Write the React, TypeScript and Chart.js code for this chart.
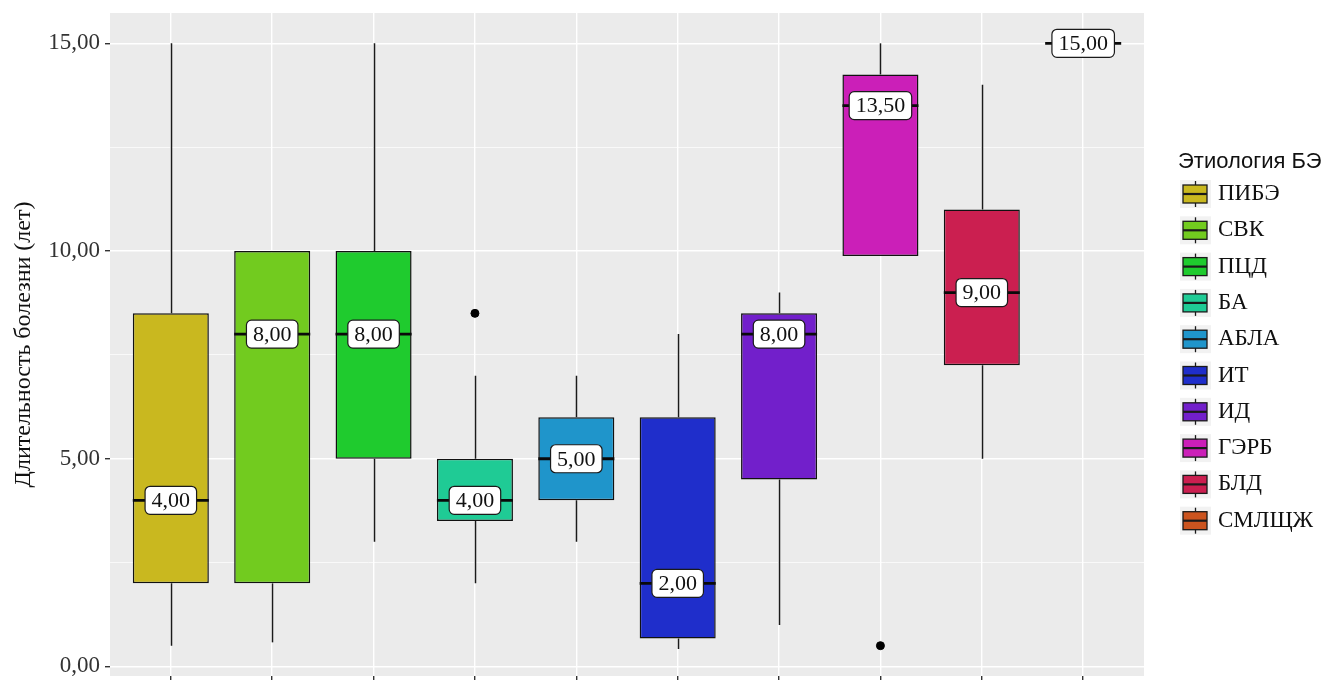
import React, { useEffect, useRef } from 'react';
import { Chart, registerables } from 'chart.js';

Chart.register(...registerables);

// ---- data ----
const categories = ['ПИБЭ', 'СВК', 'ПЦД', 'БА', 'АБЛА', 'ИТ', 'ИД', 'ГЭРБ', 'БЛД', 'СМЛЩЖ'];
const whiskerLow = [0.5, 0.58, 3, 2, 3, 0.42, 1, 9.88, 5, 15];
const q1 = [2, 2, 5, 3.5, 4, 0.67, 4.5, 9.88, 7.25, 15];
const median = [4, 8, 8, 4, 5, 2, 8, 13.5, 9, 15];
const q3 = [8.5, 10, 10, 5, 6, 6, 8.5, 14.25, 11, 15];
const whiskerHigh = [15, 10, 15, 7, 7, 8, 9, 15, 14, 15];
const outlierCategories = ['БА', 'ГЭРБ'];
const outlierValues = [8.5, 0.5];
const yTickValues = [0, 2.5, 5, 7.5, 10, 12.5, 15];
const colors = ['#C9B81F', '#72CB1F', '#1FCB2E', '#1FCB95', '#1F95CB', '#1F2ECB', '#721FCB', '#CB1FB8', '#CB1F50', '#CB541F'];
const legendTitle = 'Этиология БЭ';
const yTitle = 'Длительность болезни (лет)';

const fmt = (v: number) => v.toFixed(2).replace('.', ',');

const boxPlugin = {
  id: 'boxPlugin',
  beforeDraw(chart: any) {
    const { ctx, chartArea } = chart;
    ctx.save();
    ctx.fillStyle = '#EBEBEB';
    ctx.fillRect(chartArea.left, chartArea.top, chartArea.right - chartArea.left, chartArea.bottom - chartArea.top);
    ctx.restore();
  },
  beforeDatasetsDraw(chart: any) {
    const { ctx } = chart;
    const xs = chart.scales.x;
    const ys = chart.scales.y;
    ctx.save();
    ctx.strokeStyle = '#1a1a1a';
    ctx.lineWidth = 1.5;
    categories.forEach((_, i) => {
      const x = Math.round(xs.getPixelForValue(i + 1)) + 0.5;
      ctx.beginPath();
      ctx.moveTo(x, ys.getPixelForValue(whiskerLow[i]));
      ctx.lineTo(x, ys.getPixelForValue(q1[i]));
      ctx.moveTo(x, ys.getPixelForValue(q3[i]));
      ctx.lineTo(x, ys.getPixelForValue(whiskerHigh[i]));
      ctx.stroke();
    });
    ctx.restore();
  },
  afterDatasetsDraw(chart: any) {
    const { ctx } = chart;
    const xs = chart.scales.x;
    const ys = chart.scales.y;
    const half = (xs.getPixelForValue(2) - xs.getPixelForValue(1)) * 0.75 / 2;
    ctx.save();
    categories.forEach((_, i) => {
      const x = xs.getPixelForValue(i + 1);
      const y = ys.getPixelForValue(median[i]);
      ctx.strokeStyle = '#0a0a0a';
      ctx.lineWidth = 2.8;
      ctx.beginPath();
      ctx.moveTo(x - half, y);
      ctx.lineTo(x + half, y);
      ctx.stroke();
    });
    ctx.font = '22px "Liberation Serif"';
    ctx.textAlign = 'center';
    ctx.textBaseline = 'middle';
    categories.forEach((_, i) => {
      const x = xs.getPixelForValue(i + 1);
      const y = ys.getPixelForValue(median[i]);
      const txt = fmt(median[i]);
      const w = ctx.measureText(txt).width + 13;
      const h = 28;
      ctx.beginPath();
      ctx.roundRect(x - w / 2, y - h / 2, w, h, 5);
      ctx.fillStyle = '#FFFFFF';
      ctx.fill();
      ctx.lineWidth = 1.2;
      ctx.strokeStyle = '#1a1a1a';
      ctx.stroke();
      ctx.fillStyle = '#111';
      ctx.fillText(txt, x, y + 1);
    });
    ctx.restore();
  },
  afterDraw(chart: any) {
    const { ctx } = chart;
    ctx.save();
    ctx.fillStyle = '#111';
    ctx.font = '22px "Liberation Sans"';
    ctx.textAlign = 'left';
    ctx.textBaseline = 'middle';
    ctx.fillText(legendTitle, 1178, 162);
    ctx.font = '23px "Liberation Serif"';
    categories.forEach((c, i) => {
      const cy = 194 + i * 36.3;
      ctx.fillStyle = '#F2F2F2';
      ctx.fillRect(1180, cy - 14, 31, 28);
      ctx.strokeStyle = '#1a1a1a';
      ctx.lineWidth = 1.3;
      ctx.beginPath();
      ctx.moveTo(1195.5, cy - 13);
      ctx.lineTo(1195.5, cy + 13);
      ctx.stroke();
      ctx.fillStyle = colors[i];
      ctx.fillRect(1183, cy - 9, 24, 18);
      ctx.strokeRect(1183, cy - 9, 24, 18);
      ctx.lineWidth = 2.2;
      ctx.beginPath();
      ctx.moveTo(1183, cy);
      ctx.lineTo(1207, cy);
      ctx.stroke();
      ctx.fillStyle = '#111';
      ctx.fillText(c, 1218, cy);
    });
    ctx.restore();
  },
};

export default function App() {
  const ref = useRef<HTMLCanvasElement | null>(null);
  useEffect(() => {
    if (!ref.current) return;
    const chart = new Chart(ref.current, {
      type: 'bar',
      data: {
        datasets: [
          {
            type: 'bar',
            data: categories.map((_, i) => ({ x: i + 1, y: [q1[i], q3[i]] })) as any,
            backgroundColor: colors,
            borderColor: '#111',
            borderWidth: categories.map((_, i) => (q1[i] === q3[i] ? 0 : 1.5)),
            borderSkipped: false,
            barPercentage: 0.75,
            categoryPercentage: 1,
          } as any,
          {
            type: 'scatter',
            data: outlierCategories.map((c, i) => ({ x: categories.indexOf(c) + 1, y: outlierValues[i] })),
            backgroundColor: '#000',
            borderColor: '#000',
            pointRadius: 4,
            pointHoverRadius: 4,
          } as any,
        ],
      },
      options: {
        animation: false,
        responsive: true,
        maintainAspectRatio: false,
        layout: { padding: { left: 0, top: 13, right: 184, bottom: 0 } },
        plugins: { legend: { display: false }, tooltip: { enabled: false } },
        scales: {
          x: {
            type: 'linear',
            min: 0.4,
            max: 10.6,
            offset: false,
            afterBuildTicks: (s: any) => {
              s.ticks = categories.map((_, i) => ({ value: i + 1 }));
            },
            afterFit: (s: any) => {
              s.height = 0;
              s.paddingLeft = 0;
              s.paddingRight = 0;
            },
            ticks: { callback: () => '', padding: 0 },
            grid: { color: '#FFFFFF', lineWidth: 1.4, tickColor: '#333', tickLength: 4, offset: false },
            border: { display: false },
          },
          y: {
            type: 'linear',
            min: -0.23,
            max: 15.73,
            afterBuildTicks: (s: any) => {
              s.ticks = yTickValues.map((v) => ({ value: v }));
            },
            afterFit: (s: any) => {
              s.width = 110;
              s.paddingTop = 0;
              s.paddingBottom = 0;
            },
            ticks: {
              callback: (v: any) => (Number(v) % 5 === 0 ? fmt(Number(v)) : ''),
              font: { family: 'Liberation Serif', size: 23 },
              color: '#333',
              padding: 5,
            },
            grid: {
              color: '#FFFFFF',
              lineWidth: (c: any) => (c.tick && c.tick.value % 5 === 0 ? 1.4 : 0.7),
              tickColor: (c: any) => (c.tick && c.tick.value % 5 === 0 ? '#333' : 'rgba(0,0,0,0)'),
              tickLength: 5,
            },
            border: { display: false },
            title: {
              display: true,
              text: yTitle,
              font: { family: 'Liberation Serif', size: 24 },
              color: '#111',
              padding: { top: 9, bottom: 0 },
            },
          },
        },
      },
      plugins: [boxPlugin],
    });
    return () => chart.destroy();
  }, []);
  return (
    <div style={{ position: 'fixed', left: 0, top: 0, width: 1328, height: 681, background: '#fff' }}>
      <canvas ref={ref} />
    </div>
  );
}
